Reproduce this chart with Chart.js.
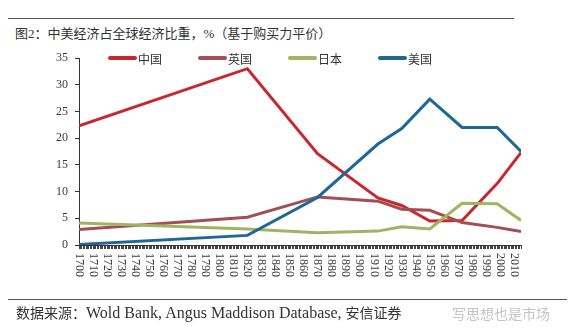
<!DOCTYPE html>
<html>
<head>
<meta charset="utf-8">
<script src="https://cdn.jsdelivr.net/npm/chart.js@4/dist/chart.umd.min.js"></script>
<style>
  html, body { margin: 0; padding: 0; background: #fff; }
  #wrap { position: relative; width: 576px; height: 331px; overflow: hidden; }
  #chart { position: absolute; left: 0; top: 0; }
  .rule { position: absolute; height: 1px; background: #555; }
  .txt { position: absolute; white-space: nowrap; color: #333; }
  #title { left: 15px; top: 23px; font: 13px "Liberation Serif", "Noto Sans CJK SC", serif; }
  #source { left: 16px; top: 302px; font: 14px "Liberation Serif", "Noto Sans CJK SC", serif; }
  #source .lat { font-size: 16px; }
  #mark { left: 452px; top: 303px; font: 14px "Noto Sans CJK SC", sans-serif; color: #c4c4c4; }
</style>
</head>
<body>
<div id="wrap">
  <div class="rule" style="left:8px; top:18px; width:506px;"></div>
  <div class="txt" id="title">图2：中美经济占全球经济比重，%（基于购买力平价）</div>
  <canvas id="chart" width="576" height="331"></canvas>
  <div class="rule" style="left:8px; top:299px; width:559px;"></div>
  <div class="txt" id="source">数据来源：<span class="lat">Wold Bank, Angus Maddison Database, </span>安信证券</div>
  <div class="txt" id="mark">写思想也是市场</div>
</div>
<script>
// data
const years = [1700, 1820, 1870, 1913, 1930, 1950, 1973, 1998, 2015]
const china = [22.3, 33.0, 17.1, 8.8, 7.4, 4.5, 4.6, 11.5, 17.3]
const uk = [2.9, 5.2, 9.0, 8.2, 6.7, 6.5, 4.2, 3.3, 2.5]
const japan = [4.1, 3.0, 2.3, 2.6, 3.4, 3.0, 7.8, 7.7, 4.6]
const usa = [0.1, 1.8, 8.9, 18.9, 21.8, 27.3, 22.0, 22.0, 17.5]
const seriesNames = ["中国", "英国", "日本", "美国"]
const yearLabels = []
for (let y = 1700; y <= 2010; y += 10) yearLabels.push(y)
const yTicks = [0, 5, 10, 15, 20, 25, 30, 35]

const colors = ["#c9272e", "#a24e53", "#a0b461", "#1f6896"]
const toPoints = (vals) => vals.map((v, i) => ({ x: years[i], y: v }))

// x labels drawn rotated clockwise, like the original
const xLabelPlugin = {
  id: "xLabels",
  afterDraw(chart) {
    const xs = chart.scales.x
    const ctx = chart.ctx
    ctx.save()
    ctx.fillStyle = "#3a3a3a"
    ctx.font = "12px 'Liberation Serif', serif"
    ctx.textAlign = "left"
    ctx.textBaseline = "middle"
    yearLabels.forEach((yr) => {
      const px = xs.getPixelForValue(yr)
      ctx.save()
      ctx.translate(px, xs.top + 8)
      ctx.rotate(Math.PI / 2)
      ctx.fillText(String(yr), 0, 0)
      ctx.restore()
    })
    ctx.restore()
  },
}

// legend row sits at the top of the plot area
const legendPlugin = {
  id: "topLegend",
  afterDraw(chart) {
    const ctx = chart.ctx
    const y = chart.chartArea.top
    ctx.save()
    ctx.font = "12px 'Noto Sans CJK SC', sans-serif"
    ctx.textBaseline = "middle"
    ctx.textAlign = "left"
    chart.data.datasets.forEach((ds, i) => {
      const x0 = 108 + i * 90
      ctx.strokeStyle = ds.borderColor
      ctx.lineWidth = 4
      ctx.lineCap = "round"
      ctx.beginPath()
      ctx.moveTo(x0 + 2, y)
      ctx.lineTo(x0 + 27, y)
      ctx.stroke()
      ctx.fillStyle = "#333"
      ctx.fillText(ds.label, x0 + 30, y + 1)
    })
    ctx.restore()
  },
}

new Chart(document.getElementById("chart"), {
  type: "line",
  data: {
    datasets: [
      { label: seriesNames[0], data: toPoints(china), borderColor: colors[0], order: 3 },
      { label: seriesNames[1], data: toPoints(uk), borderColor: colors[1], order: 2 },
      { label: seriesNames[2], data: toPoints(japan), borderColor: colors[2], order: 1 },
      { label: seriesNames[3], data: toPoints(usa), borderColor: colors[3], order: 0 },
    ],
  },
  options: {
    responsive: false,
    animation: false,
    layout: { padding: { left: 0, top: 58, right: 55, bottom: 82 } },
    elements: {
      line: { borderWidth: 3, tension: 0, fill: false },
      point: { radius: 0 },
    },
    plugins: {
      legend: { display: false },
      tooltip: { enabled: false },
    },
    scales: {
      x: {
        type: "linear",
        min: 1700,
        max: 2015,
        afterFit: (s) => { s.height = 4 },
        border: { display: true, color: "#333", width: 1 },
        grid: { drawOnChartArea: false, drawTicks: true, tickLength: 4, color: "#444" },
        ticks: { stepSize: 1, autoSkip: false, maxRotation: 0, callback: () => "" },
      },
      y: {
        min: 0,
        max: 35,
        afterFit: (s) => { s.width = 79 },
        afterBuildTicks: (s) => { s.ticks = yTicks.map((v) => ({ value: v })) },
        border: { display: true, color: "#333", width: 1 },
        grid: { drawOnChartArea: false, drawTicks: true, tickLength: 4, color: "#333" },
        ticks: {
          padding: 7,
          color: "#3a3a3a",
          font: { family: "'Liberation Serif', serif", size: 12 },
        },
      },
    },
  },
  plugins: [xLabelPlugin, legendPlugin],
})
</script>
</body>
</html>
